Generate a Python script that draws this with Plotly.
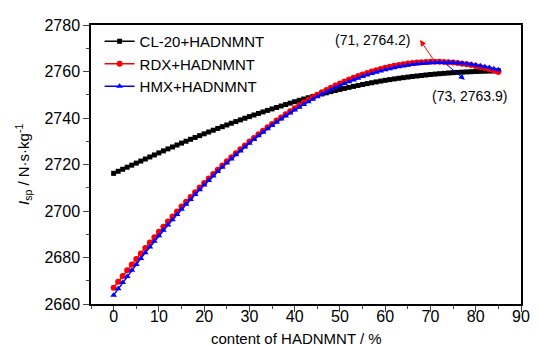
import plotly.graph_objects as go

content = [0, 1, 2, 3, 4, 5, 6, 7, 8, 9, 10, 11, 12, 13, 14, 15, 16, 17, 18, 19,
           20, 21, 22, 23, 24, 25, 26, 27, 28, 29, 30, 31, 32, 33, 34, 35, 36, 37, 38, 39,
           40, 41, 42, 43, 44, 45, 46, 47, 48, 49, 50, 51, 52, 53, 54, 55, 56, 57, 58, 59,
           60, 61, 62, 63, 64, 65, 66, 67, 68, 69, 70, 71, 72, 73, 74, 75, 76, 77, 78, 79,
           80, 81, 82, 83, 84, 85]

cl20 = [2716.20, 2717.08, 2717.96, 2718.84, 2719.72, 2720.60, 2721.48, 2722.36, 2723.24, 2724.12,
        2725.00, 2725.86, 2726.71, 2727.55, 2728.38, 2729.20, 2730.02, 2730.83, 2731.63, 2732.42,
        2733.20, 2733.98, 2734.75, 2735.51, 2736.26, 2737.00, 2737.74, 2738.47, 2739.19, 2739.90,
        2740.60, 2741.29, 2741.96, 2742.62, 2743.27, 2743.90, 2744.53, 2745.16, 2745.78, 2746.39,
        2747.00, 2747.59, 2748.16, 2748.72, 2749.27, 2749.80, 2750.33, 2750.84, 2751.34, 2751.83,
        2752.30, 2752.74, 2753.17, 2753.59, 2754.00, 2754.40, 2754.79, 2755.16, 2755.52, 2755.87,
        2756.20, 2756.51, 2756.80, 2757.08, 2757.35, 2757.60, 2757.84, 2758.07, 2758.29, 2758.50,
        2758.70, 2758.88, 2759.05, 2759.21, 2759.36, 2759.50, 2759.62, 2759.73, 2759.83, 2759.92,
        2760.00, 2760.07, 2760.13, 2760.19, 2760.25, 2760.30]

rdx = [2667.00, 2669.53, 2672.03, 2674.51, 2676.96, 2679.37, 2681.76, 2684.12, 2686.45, 2688.76,
       2691.03, 2693.27, 2695.48, 2697.66, 2699.81, 2701.93, 2704.02, 2706.07, 2708.10, 2710.09,
       2712.05, 2713.98, 2715.88, 2717.74, 2719.57, 2721.37, 2723.13, 2724.86, 2726.56, 2728.22,
       2729.85, 2731.44, 2733.00, 2734.53, 2736.01, 2737.47, 2738.88, 2740.26, 2741.61, 2742.92,
       2744.19, 2745.42, 2746.62, 2747.78, 2748.91, 2749.99, 2751.04, 2752.05, 2753.02, 2753.95,
       2754.84, 2755.69, 2756.51, 2757.28, 2758.02, 2758.71, 2759.36, 2759.98, 2760.55, 2761.08,
       2761.57, 2762.02, 2762.43, 2762.79, 2763.12, 2763.40, 2763.64, 2763.83, 2763.98, 2764.09,
       2764.16, 2764.20, 2764.16, 2764.09, 2763.98, 2763.83, 2763.62, 2763.38, 2763.09, 2762.75,
       2762.37, 2761.94, 2761.47, 2760.94, 2760.38, 2759.76]

hmx = [2663.80, 2666.52, 2669.21, 2671.86, 2674.47, 2677.04, 2679.58, 2682.08, 2684.54, 2686.96,
       2689.35, 2691.69, 2694.00, 2696.28, 2698.51, 2700.71, 2702.87, 2704.99, 2707.08, 2709.13,
       2711.14, 2713.11, 2715.04, 2716.94, 2718.80, 2720.62, 2722.41, 2724.15, 2725.86, 2727.53,
       2729.17, 2730.77, 2732.32, 2733.85, 2735.33, 2736.78, 2738.19, 2739.56, 2740.89, 2742.19,
       2743.44, 2744.67, 2745.85, 2746.99, 2748.10, 2749.17, 2750.21, 2751.20, 2752.16, 2753.08,
       2753.96, 2754.81, 2755.62, 2756.39, 2757.12, 2757.81, 2758.47, 2759.09, 2759.67, 2760.22,
       2760.73, 2761.20, 2761.63, 2762.02, 2762.38, 2762.70, 2762.98, 2763.22, 2763.43, 2763.60,
       2763.73, 2763.82, 2763.88, 2763.90, 2763.88, 2763.82, 2763.70, 2763.53, 2763.32, 2763.07,
       2762.78, 2762.45, 2762.08, 2761.67, 2761.22, 2760.73]

series_names = ["CL-20+HADNMNT", "RDX+HADNMNT", "HMX+HADNMNT"]
x_ticks = [0, 10, 20, 30, 40, 50, 60, 70, 80, 90]
y_ticks = [2660, 2680, 2700, 2720, 2740, 2760, 2780]

rdx_peak = (71, 2764.2)
hmx_peak = (73, 2763.9)

FONT = "Liberation Sans, Arial, sans-serif"

fig = go.Figure()
fig.add_trace(go.Scatter(x=content, y=cl20, name=series_names[0], mode="lines+markers",
                         line=dict(color="black", width=1.5),
                         marker=dict(symbol="square", size=5, color="black")))
fig.add_trace(go.Scatter(x=content, y=rdx, name=series_names[1], mode="lines+markers",
                         line=dict(color="#ff0000", width=1.5),
                         marker=dict(symbol="circle", size=6, color="#ff0000")))
fig.add_trace(go.Scatter(x=content, y=hmx, name=series_names[2], mode="lines+markers",
                         line=dict(color="#0000ff", width=1.5),
                         marker=dict(symbol="triangle-up", size=6, color="#0000ff")))

# arrows
fig.add_annotation(x=67.7, y=2773.5, ax=rdx_peak[0], ay=rdx_peak[1], axref="x", ayref="y",
                   xref="x", yref="y", text="", showarrow=True, arrowhead=2, arrowsize=1.2,
                   arrowwidth=1, arrowcolor="#ff0000")
fig.add_annotation(x=77.6, y=2756.4, ax=hmx_peak[0], ay=hmx_peak[1], axref="x", ayref="y",
                   xref="x", yref="y", text="", showarrow=True, arrowhead=2, arrowsize=1.2,
                   arrowwidth=1, arrowcolor="#0000ff")
# labels
fig.add_annotation(x=57.3, y=2773.5, xref="x", yref="y", showarrow=False,
                   text="(%d, %.1f)" % rdx_peak, font=dict(family=FONT, size=14, color="black"))
fig.add_annotation(x=78.7, y=2749.6, xref="x", yref="y", showarrow=False,
                   text="(%d, %.1f)" % hmx_peak, font=dict(family=FONT, size=14, color="black"))
# axis titles
fig.add_annotation(x=-0.157, y=0.5, xref="paper", yref="paper", showarrow=False, textangle=-90,
                   xanchor="center", yanchor="middle",
                   text="<i>I</i><sub>sp</sub> / N·s·kg<sup>-1</sup>",
                   font=dict(family=FONT, size=15, color="black"))
fig.add_annotation(x=0.478, y=-0.124, xref="paper", yref="paper", showarrow=False,
                   xanchor="center", yanchor="middle",
                   text="content of HADNMNT / %",
                   font=dict(family=FONT, size=15, color="black"))

fig.update_layout(
    width=531, height=337,
    margin=dict(l=83, r=9, t=14, b=41),
    paper_bgcolor="white", plot_bgcolor="white",
    font=dict(family=FONT, size=16, color="black"),
    showlegend=True,
    legend=dict(x=0.02, y=1.0, xanchor="left", yanchor="top", bgcolor="rgba(0,0,0,0)",
                font=dict(family=FONT, size=15), tracegroupgap=0, itemwidth=30),
)
fig.update_xaxes(range=[-5, 90], tickvals=x_ticks, ticks="outside", ticklen=6, tickwidth=1.2,
                 minor=dict(dtick=5, ticks="outside", ticklen=3, tickwidth=1.2),
                 ticklabelstandoff=-9,
                 showline=True, linecolor="black", linewidth=1.5, mirror=True,
                 showgrid=False, zeroline=False, tickfont=dict(family=FONT, size=16))
fig.update_yaxes(range=[2660, 2780], tickvals=y_ticks, ticks="outside", ticklen=6, tickwidth=1.2,
                 minor=dict(dtick=10, tick0=2660, ticks="outside", ticklen=3, tickwidth=1.2),
                 showline=True, linecolor="black", linewidth=1.5, mirror=True,
                 showgrid=False, zeroline=False, tickfont=dict(family=FONT, size=16))

fig.write_html("out.html")
